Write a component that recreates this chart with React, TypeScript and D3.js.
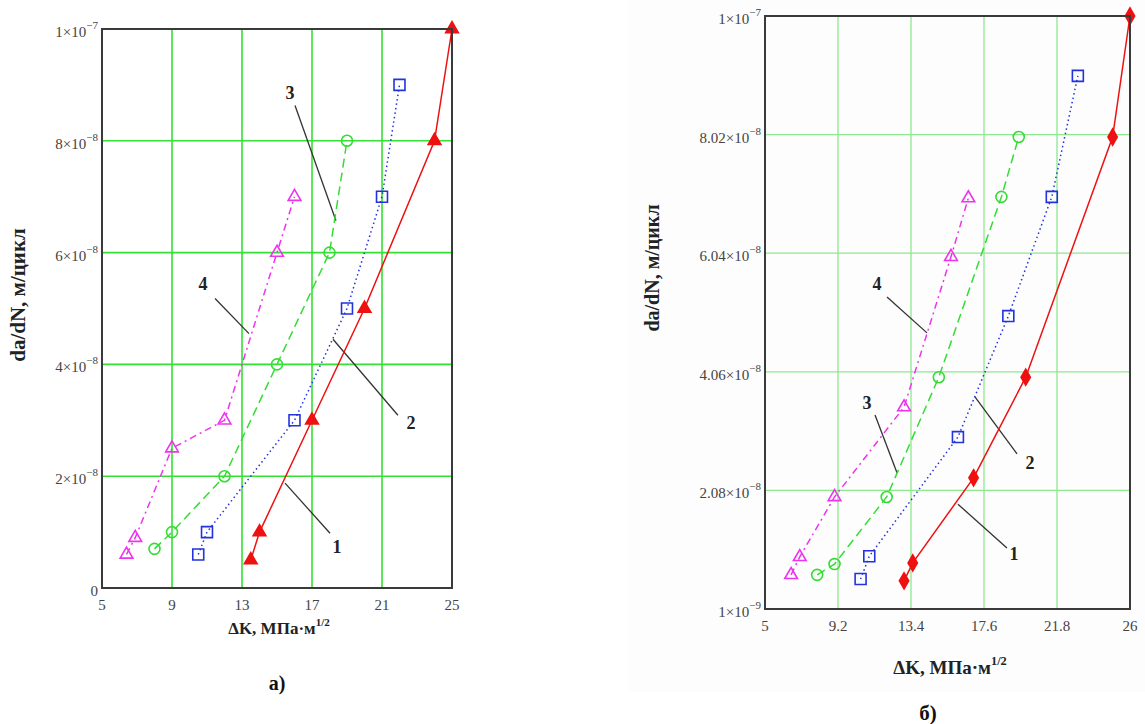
import React from "react"
import {
  scaleLinear,
  line,
  symbol,
  symbolTriangle,
  symbolSquare,
  symbolCircle,
  symbolDiamond,
} from "d3"

// ---- панель а) ----
const xTicksA = [5, 9, 13, 17, 21, 25]
const yTicksA = [0, 2e-8, 4e-8, 6e-8, 8e-8, 1e-7]
const yLabelsA = [["0", ""], ["2×10", "−8"], ["4×10", "−8"], ["6×10", "−8"], ["8×10", "−8"], ["1×10", "−7"]]

const curve1A = [[13.5, 5e-9], [14, 1e-8], [17, 3e-8], [20, 5e-8], [24, 8e-8], [25, 1e-7]]
const curve2A = [[10.5, 6e-9], [11, 1e-8], [16, 3e-8], [19, 5e-8], [21, 7e-8], [22, 9e-8]]
const curve3A = [[8, 7e-9], [9, 1e-8], [12, 2e-8], [15, 4e-8], [18, 6e-8], [19, 8e-8]]
const curve4A = [[6.4, 6e-9], [6.9, 9e-9], [9, 2.5e-8], [12, 3e-8], [15, 6e-8], [16, 7e-8]]

// номер кривой: позиция цифры и выноска (в единицах данных)
const calloutsA = [
  { n: "3", at: [15.74, 8.86e-8], from: [16.03, 8.63e-8], to: [18.37, 6.57e-8] },
  { n: "4", at: [10.77, 5.43e-8], from: [11.46, 5.18e-8], to: [13.4, 4.55e-8] },
  { n: "2", at: [22.66, 2.96e-8], from: [21.91, 3.09e-8], to: [18.2, 4.45e-8] },
  { n: "1", at: [18.43, 0.73e-8], from: [18.03, 0.98e-8], to: [15.46, 1.875e-8] },
]

// ---- панель б) ----
const xTicksB = [5, 9.2, 13.4, 17.6, 21.8, 26]
const yTicksB = [1e-9, 2.08e-8, 4.06e-8, 6.04e-8, 8.02e-8, 1e-7]
const yLabelsB = [["1×10", "−9"], ["2.08×10", "−8"], ["4.06×10", "−8"], ["6.04×10", "−8"], ["8.02×10", "−8"], ["1×10", "−7"]]

const curve1B = [[13, 5.7e-9], [13.5, 8.7e-9], [17, 2.29e-8], [20, 3.97e-8], [25, 7.98e-8], [26, 1e-7]]
const curve2B = [[10.5, 6e-9], [11, 9.8e-9], [16.1, 2.97e-8], [19, 4.99e-8], [21.5, 6.98e-8], [23, 9e-8]]
const curve3B = [[8, 6.7e-9], [9, 8.5e-9], [12, 1.97e-8], [15, 3.97e-8], [18.6, 6.98e-8], [19.6, 7.98e-8]]
const curve4B = [[6.5, 6.7e-9], [7, 9.7e-9], [9, 1.97e-8], [13, 3.47e-8], [15.7, 5.98e-8], [16.7, 6.96e-8]]

const calloutsB = [
  { n: "4", at: [11.44, 5.53e-8], from: [12.02, 5.31e-8], to: [14.32, 4.71e-8] },
  { n: "3", at: [10.87, 3.54e-8], from: [11.33, 3.34e-8], to: [12.6, 2.37e-8] },
  { n: "2", at: [20.25, 2.54e-8], from: [19.5, 2.69e-8], to: [17.08, 3.64e-8] },
  { n: "1", at: [19.33, 1.02e-8], from: [18.92, 1.12e-8], to: [16.1, 1.85e-8] },
]

const serif = "'Liberation Serif', 'Times New Roman', serif"

function Marker({ x, y, type, color, filled, size }) {
  const path = symbol().type(type).size(size)()
  return (
    <path
      d={path}
      transform={"translate(" + x + "," + y + ")"}
      fill={filled ? color : "white"}
      fillOpacity={filled ? 1 : 0}
      stroke={color}
      strokeWidth={1.6}
    />
  )
}

function Panel(props) {
  const { box, xDomain, yDomain, xTicks, yTicks, yLabels, series, callouts, grid, titles } = props
  const x = scaleLinear().domain(xDomain).range([box.left, box.right])
  const y = scaleLinear().domain(yDomain).range([box.bottom, box.top])
  const path = line().x(d => x(d[0])).y(d => y(d[1]))

  return (
    <g>
      {xTicks.slice(1, -1).map((t, i) => (
        <line key={"gx" + i} x1={x(t)} x2={x(t)} y1={box.top} y2={box.bottom} stroke={grid.color} strokeWidth={grid.width} />
      ))}
      {yTicks.slice(1, -1).map((t, i) => (
        <line key={"gy" + i} x1={box.left} x2={box.right} y1={y(t)} y2={y(t)} stroke={grid.color} strokeWidth={grid.width} />
      ))}

      {callouts.map((c, i) => (
        <g key={"c" + i}>
          <line x1={x(c.from[0])} y1={y(c.from[1])} x2={x(c.to[0])} y2={y(c.to[1])} stroke="#333" strokeWidth={1.3} />
          <text x={x(c.at[0])} y={y(c.at[1])} textAnchor="middle" dominantBaseline="central"
            fontFamily={serif} fontWeight="bold" fontSize={18} fill="#222">{c.n}</text>
        </g>
      ))}

      {series.map((s, i) => (
        <g key={"s" + i}>
          <path d={path(s.data)} fill="none" stroke={s.color} strokeWidth={1.5} strokeDasharray={s.dash} />
          {s.data.map((d, j) => (
            <Marker key={j} x={x(d[0])} y={y(d[1])} type={s.marker} color={s.color} filled={s.filled} size={s.size} />
          ))}
        </g>
      ))}

      <rect x={box.left} y={box.top} width={box.right - box.left} height={box.bottom - box.top}
        fill="none" stroke="#3a3a3a" strokeWidth={2} />

      {xTicks.map((t, i) => (
        <text key={"tx" + i} x={x(t)} y={box.bottom + 17} textAnchor="middle" dominantBaseline="central"
          fontFamily={serif} fontSize={15} fill="#444">{t}</text>
      ))}
      {yTicks.map((t, i) => (
        <text key={"ty" + i} x={box.left - 4} y={y(t) + 8} textAnchor="end"
          fontFamily={serif} fontSize={15} fill="#444">
          <tspan>{yLabels[i][0]}</tspan>
          {yLabels[i][1] && <tspan dy={-8} fontSize={11}>{yLabels[i][1]}</tspan>}
        </text>
      ))}

      <text x={titles.xTitle[0]} y={titles.xTitle[1]} textAnchor="middle" dominantBaseline="central"
        fontFamily={serif} fontWeight="bold" fontSize={titles.xSize} fill="#222">
        <tspan>ΔK, МПа·м</tspan>
        <tspan dy={-6} fontSize={titles.xSize * 0.65}>1/2</tspan>
      </text>
      <text transform={"translate(" + titles.yTitle[0] + "," + titles.yTitle[1] + ") rotate(-90)"}
        textAnchor="middle" dominantBaseline="central"
        fontFamily={serif} fontWeight="bold" fontSize={titles.ySize} fill="#222">
        da/dN, м/цикл
      </text>
      <text x={titles.caption[0]} y={titles.caption[1]} textAnchor="middle" dominantBaseline="central"
        fontFamily={serif} fontWeight="bold" fontSize={titles.capSize} fill="#111">{titles.label}</text>
    </g>
  )
}

export default function App() {
  const seriesA = [
    { data: curve1A, color: "#ee1111", dash: null, marker: symbolTriangle, filled: true, size: 70 },
    { data: curve2A, color: "#2233dd", dash: "1.5 3", marker: symbolSquare, filled: false, size: 120 },
    { data: curve3A, color: "#33dd33", dash: "9 5", marker: symbolCircle, filled: false, size: 95 },
    { data: curve4A, color: "#ee33ee", dash: "7 4 2 4", marker: symbolTriangle, filled: false, size: 70 },
  ]
  const seriesB = [
    { data: curve1B, color: "#ee1111", dash: null, marker: symbolDiamond, filled: true, size: 75 },
    { data: curve2B, color: "#2233dd", dash: "1.5 3", marker: symbolSquare, filled: false, size: 120 },
    { data: curve3B, color: "#33dd33", dash: "9 5", marker: symbolCircle, filled: false, size: 95 },
    { data: curve4B, color: "#ee33ee", dash: "7 4 2 4", marker: symbolTriangle, filled: false, size: 70 },
  ]

  return (
    <div style={{ position: "absolute", left: 0, top: 0 }}>
      <svg width={1145} height={724} style={{ display: "block", background: "white" }}>
        <rect x={628} y={0} width={517} height={692} fill="#fdfdfd" />
        <Panel
          box={{ left: 102, right: 452, top: 29, bottom: 588 }}
          xDomain={[5, 25]}
          yDomain={[0, 1e-7]}
          xTicks={xTicksA}
          yTicks={yTicksA}
          yLabels={yLabelsA}
          series={seriesA}
          callouts={calloutsA}
          grid={{ color: "#33e033", width: 1.6 }}
          titles={{ xTitle: [279, 628], yTitle: [18, 295], caption: [277, 683], label: "а)", xSize: 17, ySize: 21, capSize: 20 }}
        />
        <Panel
          box={{ left: 765, right: 1130, top: 16, bottom: 609 }}
          xDomain={[5, 26]}
          yDomain={[1e-9, 1e-7]}
          xTicks={xTicksB}
          yTicks={yTicksB}
          yLabels={yLabelsB}
          series={seriesB}
          callouts={calloutsB}
          grid={{ color: "#8ee88e", width: 1.3 }}
          titles={{ xTitle: [950, 667], yTitle: [652, 268], caption: [928, 713], label: "б)", xSize: 19, ySize: 20, capSize: 21 }}
        />
      </svg>
    </div>
  )
}
